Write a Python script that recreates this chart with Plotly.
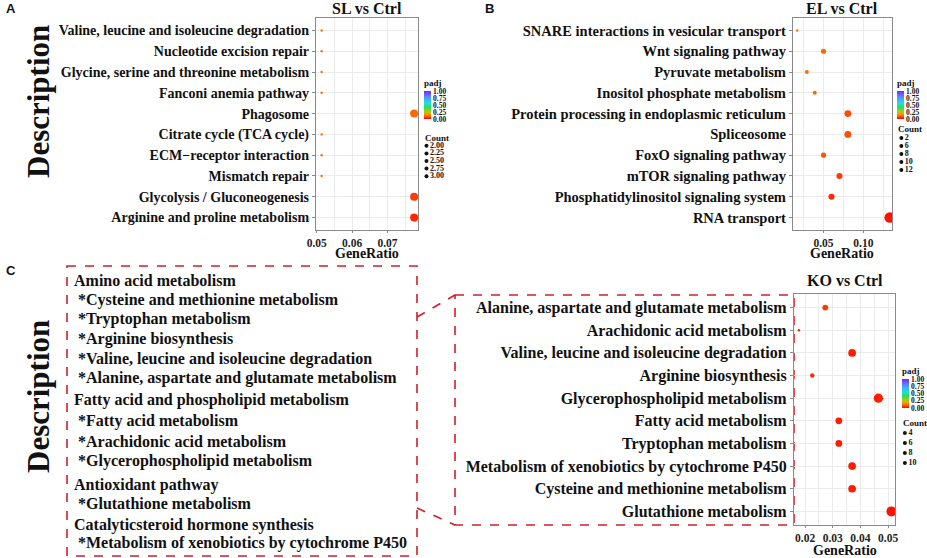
import math
import plotly.graph_objects as go

W, H = 927, 558
def fx(x): return x / W
def fy(y): return 1 - y / H

SERIF = "Liberation Serif"
SANS = "Liberation Sans"

# ---------------- data ----------------
sl_terms = ["Valine, leucine and isoleucine degradation", "Nucleotide excision repair",
            "Glycine, serine and threonine metabolism", "Fanconi anemia pathway", "Phagosome",
            "Citrate cycle (TCA cycle)", "ECM\u2212receptor interaction", "Mismatch repair",
            "Glycolysis / Gluconeogenesis", "Arginine and proline metabolism"]
sl_ratio = [0.0514, 0.0514, 0.0514, 0.0514, 0.0775, 0.0514, 0.0514, 0.0514, 0.0775, 0.0775]
sl_count = [2, 2, 2, 2, 3, 2, 2, 2, 3, 3]
sl_padj = [0.12, 0.12, 0.12, 0.12, 0.11, 0.12, 0.12, 0.12, 0.06, 0.04]
sl_count_breaks = ["2.00", "2.25", "2.50", "2.75", "3.00"]

el_terms = ["SNARE interactions in vesicular transport", "Wnt signaling pathway", "Pyruvate metabolism",
            "Inositol phosphate metabolism", "Protein processing in endoplasmic reticulum", "Spliceosome",
            "FoxO signaling pathway", "mTOR signaling pathway", "Phosphatidylinositol signaling system",
            "RNA transport"]
el_ratio = [0.017, 0.050, 0.029, 0.039, 0.0805, 0.0805, 0.050, 0.070, 0.060, 0.133]
el_count = [2, 4, 3, 3, 6, 6, 4, 5, 5, 12]
el_padj = [0.12, 0.11, 0.12, 0.11, 0.08, 0.08, 0.09, 0.06, 0.04, 0.02]
el_count_breaks = ["2", "6", "8", "10", "12"]

ko_terms = ["Alanine, aspartate and glutamate metabolism", "Arachidonic acid metabolism",
            "Valine, leucine and isoleucine degradation", "Arginine biosynthesis",
            "Glycerophospholipid metabolism", "Fatty acid metabolism", "Tryptophan metabolism",
            "Metabolism of xenobiotics by cytochrome P450", "Cysteine and methionine metabolism",
            "Glutathione metabolism"]
ko_ratio = [0.0273, 0.0178, 0.0370, 0.0226, 0.0465, 0.0322, 0.0322, 0.0370, 0.0370, 0.0512]
ko_count = [6, 4, 8, 5, 10, 7, 7, 8, 8, 11]
ko_padj = [0.06, 0.03, 0.03, 0.04, 0.03, 0.03, 0.03, 0.03, 0.03, 0.02]
ko_count_breaks = ["4", "6", "8", "10"]

colorbar_ticks = ["0.00", "0.25", "0.50", "0.75", "1.00"]

box_lines = ["Amino acid metabolism",
             "*Cysteine and methionine metabolism",
             "*Tryptophan metabolism",
             "*Arginine biosynthesis",
             "*Valine, leucine and isoleucine degradation",
             "*Alanine, aspartate and glutamate metabolism",
             "Fatty acid and phospholipid metabolism",
             "*Fatty acid metabolism",
             "*Arachidonic acid metabolism",
             "*Glycerophospholipid metabolism",
             "Antioxidant pathway",
             "*Glutathione metabolism",
             "Catalyticsteroid hormone synthesis",
             "*Metabolism of xenobiotics by cytochrome P450"]

# ---------------- styles ----------------
CS = [[0, "#FF0000"], [0.1, "#FF6000"], [0.2, "#E0B000"], [0.3, "#90D020"], [0.42, "#20E060"],
      [0.55, "#20E0D0"], [0.7, "#40B0FF"], [0.85, "#6070FF"], [1, "#8020FF"]]
FRAME = "#8a8a8a"
GRID = "#EBEBEB"
RED = "#D0202A"

def sizes(counts, dmin, dmax):
    cmin, cmax = min(counts), max(counts)
    return [math.sqrt(dmin ** 2 + (c - cmin) / (cmax - cmin) * (dmax ** 2 - dmin ** 2)) for c in counts]

fig = go.Figure()

panels = [
    ("x", "y", "coloraxis", sl_terms, sl_ratio, sl_count, sl_padj, 8.0),
    ("x2", "y2", "coloraxis2", el_terms, el_ratio, el_count, el_padj, 10.5),
    ("x3", "y3", "coloraxis3", ko_terms, ko_ratio, ko_count, ko_padj, 10.0),
]
for xa, ya, ca, terms, ratio, count, padj, dmax in panels:
    fig.add_trace(go.Scatter(
        x=ratio, y=terms, xaxis=xa, yaxis=ya, mode="markers",
        marker=dict(size=sizes(count, 2.4, dmax), color=padj, coloraxis=ca, line=dict(width=0), opacity=1),
        hoverinfo="skip"))

# size legends
legends = [("x4", "y4", sl_count_breaks), ("x5", "y5", el_count_breaks), ("x6", "y6", ko_count_breaks)]
for xa, ya, br in legends:
    fig.add_trace(go.Scatter(
        x=[0.12] * len(br), y=list(range(len(br))), xaxis=xa, yaxis=ya,
        mode="markers+text", text=br, textposition="middle right",
        textfont=dict(family=SERIF, size=8, color="#111", weight="bold"),
        marker=dict(size=4, color="#111"), hoverinfo="skip", cliponaxis=False))

def xax(domain, rng, dtick, tick0, minor, anchor):
    return dict(domain=domain, range=rng, dtick=dtick, tick0=tick0, tickformat=".2f", anchor=anchor,
                automargin=False,
                showline=True, mirror=True, linecolor=FRAME, linewidth=1.3,
                showgrid=True, gridcolor=GRID, gridwidth=1, zeroline=False,
                ticks="outside", ticklen=2, tickcolor=FRAME,
                tickfont=dict(family=SERIF, size=11.5, color="#222", weight="bold"),
                minor=dict(dtick=minor, showgrid=True, gridcolor=GRID, gridwidth=0.6, ticks=""))

def yax(domain, terms, size, anchor):
    return dict(domain=domain, type="category", categoryorder="array", anchor=anchor,
                automargin=False,
                categoryarray=list(reversed(terms)), range=[-0.6, len(terms) - 0.4],
                showline=True, mirror=True, linecolor=FRAME, linewidth=1.3,
                showgrid=True, gridcolor=GRID, gridwidth=1, zeroline=False,
                ticks="outside", ticklen=3, tickcolor=FRAME,
                tickfont=dict(family=SERIF, size=size, color="#111", weight="bold"))

def hidden(domain, rng, anchor):
    return dict(domain=domain, range=rng, visible=False, fixedrange=True, anchor=anchor, automargin=False)

def cbar(x, yc, length):
    return dict(cmin=0, cmax=1, colorscale=CS,
                colorbar=dict(x=fx(x), xanchor="left", y=fy(yc), yanchor="middle",
                              len=length, lenmode="pixels", thickness=7, thicknessmode="pixels",
                              outlinewidth=0, xpad=0, ypad=0,
                              tickvals=[0, 0.25, 0.5, 0.75, 1], ticktext=colorbar_ticks, ticks="",
                              tickfont=dict(family=SERIF, size=7.5, color="#111", weight="bold"),
                              title=dict(text="padj", side="top",
                                         font=dict(family=SERIF, size=9, color="#111", weight="bold"))))

fig.update_layout(
    width=W, height=H, margin=dict(l=0, r=0, t=0, b=0, autoexpand=False),
    paper_bgcolor="white", plot_bgcolor="white", showlegend=False,
    xaxis=xax([fx(316), fx(418)], [0.0498, 0.0786], 0.01, 0.05, 0.005, "y"),
    yaxis=yax([fy(230), fy(18)], sl_terms, 14, "x"),
    xaxis2=xax([fx(793), fx(892)], [0.0117, 0.1359], 0.05, 0.05, 0.025, "y2"),
    yaxis2=yax([fy(230), fy(18)], el_terms, 14.5, "x2"),
    xaxis3=xax([fx(794), fx(895)], [0.0160, 0.0525], 0.01, 0.02, 0.005, "y3"),
    yaxis3=yax([fy(525), fy(294)], ko_terms, 16, "x3"),
    xaxis4=hidden([fx(423), fx(452)], [0, 1], "y4"),
    yaxis4=hidden([fy(180), fy(142)], [4.5, -0.5], "x4"),
    xaxis5=hidden([fx(898), fx(926)], [0, 1], "y5"),
    yaxis5=hidden([fy(174), fy(134)], [4.5, -0.5], "x5"),
    xaxis6=hidden([fx(902), fx(926)], [0, 1], "y6"),
    yaxis6=hidden([fy(468), fy(428)], [3.5, -0.5], "x6"),
    coloraxis=cbar(424, 98, 43),
    coloraxis2=cbar(897, 98, 43),
    coloraxis3=cbar(902, 386, 44),
)

ann = []
def text(x, y, s, size, xanchor="center", family=SERIF, angle=0, bold=True, color="#111"):
    ann.append(dict(x=fx(x), y=fy(y), xref="paper", yref="paper", text=s, showarrow=False,
                    xanchor=xanchor, yanchor="middle", textangle=angle,
                    font=dict(family=family, size=size, color=color, weight="bold" if bold else "normal")))

# panel letters
text(4, 9, "A", 13, "left", SANS)
text(483, 9, "B", 13, "left", SANS)
text(4, 270, "C", 13, "left", SANS)
# big axis labels
text(38, 102, "Description", 31, angle=-90)
text(38, 397, "Description", 31, angle=-90)
# titles
text(367, 9, "SL vs Ctrl", 16)
text(842, 9, "EL vs Ctrl", 16)
text(845, 280, "KO vs Ctrl", 16)
# x titles
text(367, 253, "GeneRatio", 14)
text(842, 253, "GeneRatio", 14)
text(845, 550, "GeneRatio", 14)
# count legend titles
text(423, 138, "Count", 9, "left")
text(896, 129, "Count", 9, "left")
text(901, 423, "Count", 9, "left")

# box text
line_y = [280, 300, 319, 339, 359, 378, 400, 421, 441, 461, 485, 503, 525, 543]
for s, yy in zip(box_lines, line_y):
    text(76 if s.startswith("*") else 72, yy, s, 16, "left")

fig.update_layout(annotations=ann)

shapes = [
    dict(type="rect", x0=fx(67), x1=fx(417), y0=fy(266), y1=fy(556)),
    dict(type="rect", x0=fx(455), x1=fx(794), y0=fy(295), y1=fy(525)),
    dict(type="line", x0=fx(417), x1=fx(455), y0=fy(317), y1=fy(295)),
    dict(type="line", x0=fx(417), x1=fx(455), y0=fy(508), y1=fy(525)),
]
for s in shapes:
    s.update(xref="paper", yref="paper", line=dict(color=RED, width=1.6, dash="dash"), layer="below")
fig.update_layout(shapes=shapes)

# remove the default 8px page margin so the figure fills the window exactly
fig.write_html("out.html", config={"displayModeBar": False},
               post_script="document.body.style.margin='0px';")
